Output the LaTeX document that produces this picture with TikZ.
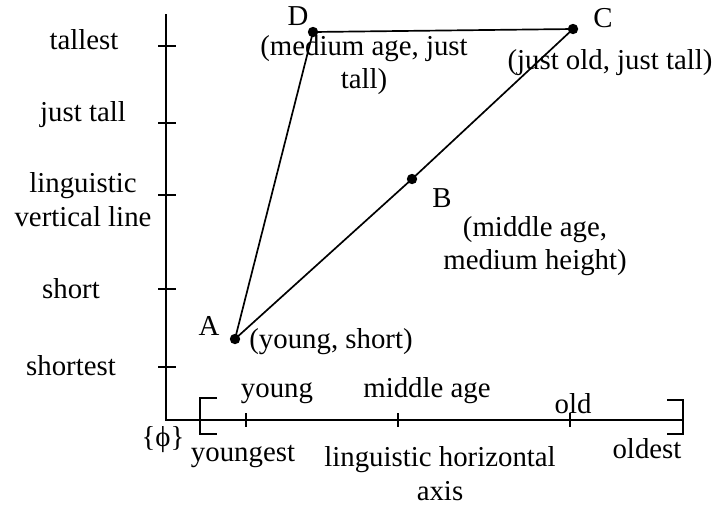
\documentclass[tikz,border=0pt]{standalone}
\usepackage{fontspec}
\setmainfont{Liberation Serif}
\usetikzlibrary{positioning}
\tikzstyle{every node}=[font=\fontsize{20.5}{24}\selectfont, inner sep=0pt, align=center]
\tikzstyle{axis}=[line width=1.3pt]
\tikzstyle{edge}=[line width=1.2pt]
\tikzstyle{dot}=[circle, fill=black, minimum size=0.26cm]

\begin{document}
\begin{tikzpicture}[x=0.025cm, y=-0.025cm]
            \useasboundingbox (0,0) rectangle (716,509);
            % axes
            \coordinate (O) at (166,420);
            \coordinate (ytop) at (166,14);
            \coordinate (xend) at (683,420);
            \draw[axis] (ytop) -- (O) -- (xend);
            \foreach \y in {46,123,195,289,367}
                \draw[axis] (158,\y) -- (176,\y);
            \foreach \x in {246,398,570}
                \draw[axis] (\x,413) -- (\x,427);
            % brackets
            \draw[axis] (217,398) -- (200,398) -- (200,434) -- (217,434);
            \draw[axis] (667,400) -- (683,400) -- (683,434) -- (667,434);
            % vertical labels
            \node (tallest) at (84,40) {tallest};
            \node (justtall) at (83,115) {just tall};
            \node (vline) at (83,200) {linguistic\\vertical line};
            \node (short) at (71,289) {short};
            \node (shortest) at (71,366) {shortest};
            % horizontal labels
            \node (phi) at (163,440) {\{ϕ\}};
            \node (young) at (277,393) {young};
            \node (middle) at (427,391) {middle age};
            \node (old) at (573,404) {old};
            \node (youngest) at (243,456) {youngest};
            \node (hline) at (440,474) {linguistic horizontal\\axis};
            \node (oldest) at (647,449) {oldest};
            % points
            \coordinate (A) at (235,339);
            \coordinate (B) at (412,179);
            \coordinate (C) at (573,29);
            \coordinate (D) at (313,32);
            \draw[edge] (A) -- (D) -- (C) -- (B) -- (A);
            \foreach \p in {A,B,C,D}
                \node[dot] at (\p) {};
            \node (Alab) at (209,326) {A};
            \node (Blab) at (442,198) {B};
            \node (Clab) at (603,18) {C};
            \node (Dlab) at (298,16) {D};
            \node (Atext) at (331,342) {(young, short)};
            \node (Btext) at (535,246) {(middle age,\\medium height)};
            \node (Ctext) at (610,63) {(just old, just tall)};
            \node (Dtext) at (364,65) {(medium age, just\\tall)};
        \end{tikzpicture}
\end{document}
